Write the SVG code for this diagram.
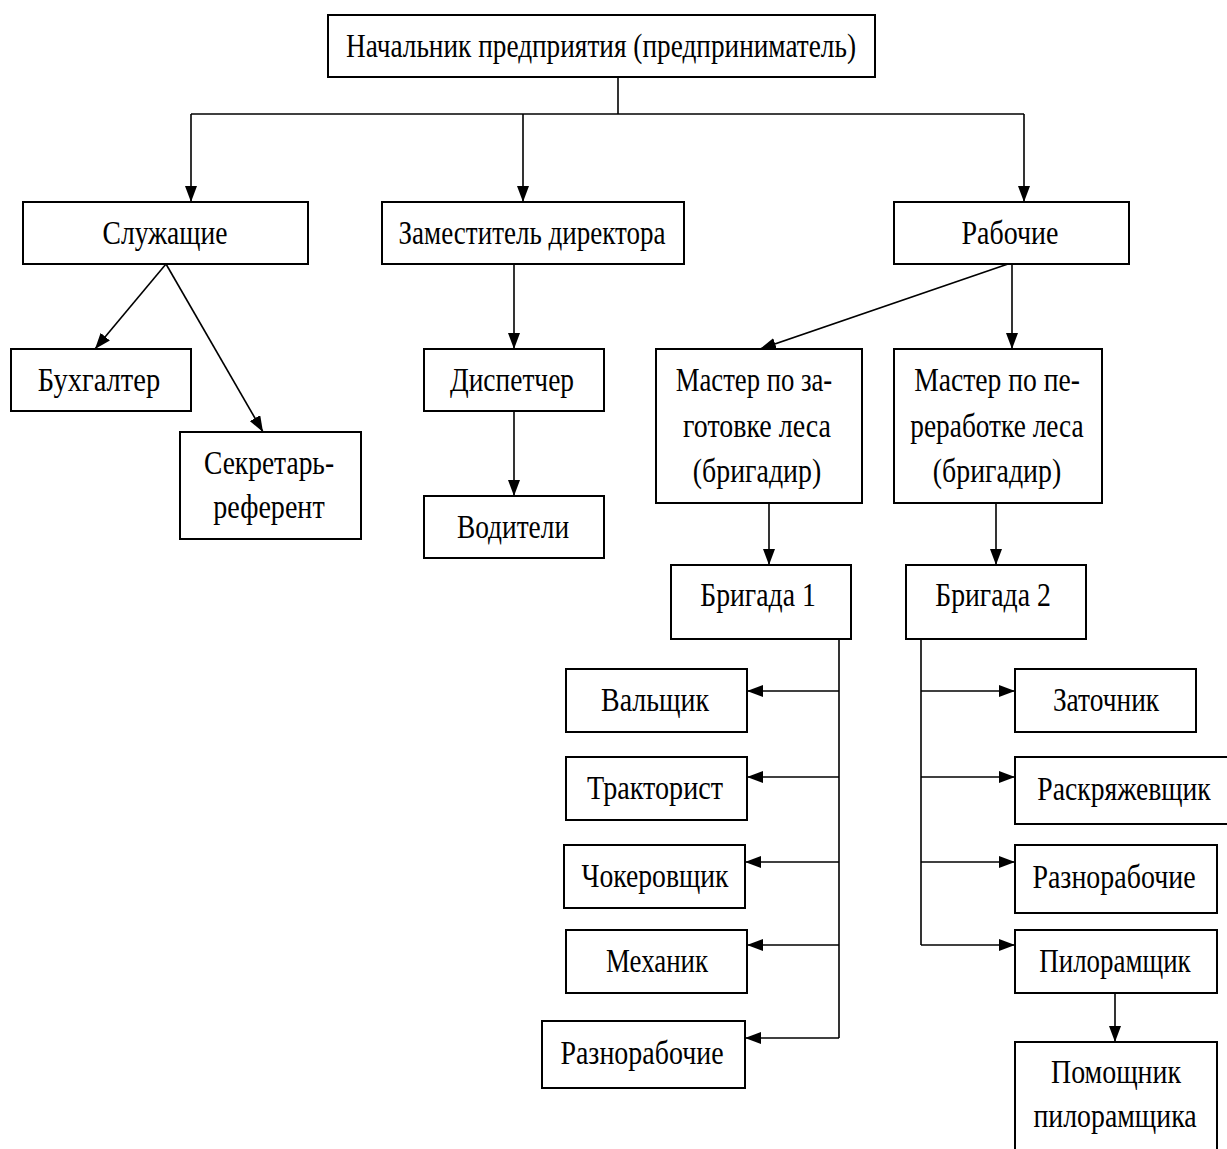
<svg xmlns="http://www.w3.org/2000/svg" width="1227" height="1149" viewBox="0 0 1227 1149">
<style>
.box{fill:#fff;stroke:#000;stroke-width:2}
.t{font-family:"Liberation Serif","Times New Roman",serif;font-size:34px;fill:#000;text-anchor:middle}
.c path{fill:none;stroke:#000;stroke-width:1.6}
</style>
<defs>
<marker id="ah" markerUnits="userSpaceOnUse" viewBox="0 0 16 12" refX="16" refY="6" markerWidth="16" markerHeight="12" orient="auto">
<path d="M0,0 L16,6 L0,12 z" fill="#000"/>
</marker>
</defs>
<rect width="1227" height="1149" fill="#fff"/>
<g class="c" id="connectors">
<path d="M618,77 V114"/>
<path d="M191,114 H1024"/>
<path d="M191,114 V202" marker-end="url(#ah)"/>
<path d="M523,114 V202" marker-end="url(#ah)"/>
<path d="M1024,114 V202" marker-end="url(#ah)"/>
<path d="M166,264 L95,349" marker-end="url(#ah)"/>
<path d="M166,264 L263,432" marker-end="url(#ah)"/>
<path d="M514,264 V349" marker-end="url(#ah)"/>
<path d="M514,411 V496" marker-end="url(#ah)"/>
<path d="M1008,264 L760,349" marker-end="url(#ah)"/>
<path d="M1012,264 V349" marker-end="url(#ah)"/>
<path d="M769,503 V565" marker-end="url(#ah)"/>
<path d="M996,503 V565" marker-end="url(#ah)"/>
<path d="M839,639 V1038"/>
<path d="M839,691 H747" marker-end="url(#ah)"/>
<path d="M839,777 H747" marker-end="url(#ah)"/>
<path d="M839,862 H745" marker-end="url(#ah)"/>
<path d="M839,945 H747" marker-end="url(#ah)"/>
<path d="M839,1038 H745" marker-end="url(#ah)"/>
<path d="M921,639 V945"/>
<path d="M921,691 H1015" marker-end="url(#ah)"/>
<path d="M921,777 H1015" marker-end="url(#ah)"/>
<path d="M921,862 H1015" marker-end="url(#ah)"/>
<path d="M921,945 H1015" marker-end="url(#ah)"/>
<path d="M1115,993 V1042" marker-end="url(#ah)"/>
</g>
<g id="n-head"><rect class="box" x="328" y="15" width="547" height="62"/><text class="t" transform="translate(601,57) scale(0.85,1)" textLength="600" lengthAdjust="spacingAndGlyphs">Начальник предприятия (предприниматель)</text></g>
<g id="n-sluzh"><rect class="box" x="23" y="202" width="285" height="62"/><text class="t" transform="translate(165,244) scale(0.85,1)" textLength="147" lengthAdjust="spacingAndGlyphs">Служащие</text></g>
<g id="n-zam"><rect class="box" x="382" y="202" width="302" height="62"/><text class="t" transform="translate(532,244) scale(0.85,1)" textLength="314" lengthAdjust="spacingAndGlyphs">Заместитель директора</text></g>
<g id="n-rab"><rect class="box" x="894" y="202" width="235" height="62"/><text class="t" transform="translate(1010,244) scale(0.85,1)" textLength="114" lengthAdjust="spacingAndGlyphs">Рабочие</text></g>
<g id="n-buh"><rect class="box" x="11" y="349" width="180" height="62"/><text class="t" transform="translate(99,391) scale(0.85,1)" textLength="144" lengthAdjust="spacingAndGlyphs">Бухгалтер</text></g>
<g id="n-sekr"><rect class="box" x="180" y="432" width="181" height="107"/><text class="t" transform="translate(269,474) scale(0.85,1)" textLength="153" lengthAdjust="spacingAndGlyphs">Секретарь-</text><text class="t" transform="translate(269,518) scale(0.85,1)" textLength="131" lengthAdjust="spacingAndGlyphs">референт</text></g>
<g id="n-disp"><rect class="box" x="424" y="349" width="180" height="62"/><text class="t" transform="translate(512,391) scale(0.85,1)" textLength="146" lengthAdjust="spacingAndGlyphs">Диспетчер</text></g>
<g id="n-vod"><rect class="box" x="424" y="496" width="180" height="62"/><text class="t" transform="translate(513,538) scale(0.85,1)" textLength="132" lengthAdjust="spacingAndGlyphs">Водители</text></g>
<g id="n-m1"><rect class="box" x="656" y="349" width="206" height="154"/><text class="t" transform="translate(754,391) scale(0.85,1)" textLength="184" lengthAdjust="spacingAndGlyphs">Мастер по за-</text><text class="t" transform="translate(757,437) scale(0.85,1)" textLength="174" lengthAdjust="spacingAndGlyphs">готовке леса</text><text class="t" transform="translate(757,482) scale(0.85,1)" textLength="151" lengthAdjust="spacingAndGlyphs">(бригадир)</text></g>
<g id="n-m2"><rect class="box" x="894" y="349" width="208" height="154"/><text class="t" transform="translate(997,391) scale(0.85,1)" textLength="195" lengthAdjust="spacingAndGlyphs">Мастер по пе-</text><text class="t" transform="translate(997,437) scale(0.85,1)" textLength="204" lengthAdjust="spacingAndGlyphs">реработке леса</text><text class="t" transform="translate(997,482) scale(0.85,1)" textLength="151" lengthAdjust="spacingAndGlyphs">(бригадир)</text></g>
<g id="n-b1"><rect class="box" x="671" y="565" width="180" height="74"/><text class="t" transform="translate(758,606) scale(0.85,1)" textLength="136" lengthAdjust="spacingAndGlyphs">Бригада 1</text></g>
<g id="n-b2"><rect class="box" x="906" y="565" width="180" height="74"/><text class="t" transform="translate(993,606) scale(0.85,1)" textLength="136" lengthAdjust="spacingAndGlyphs">Бригада 2</text></g>
<g id="n-val"><rect class="box" x="566" y="669" width="181" height="63"/><text class="t" transform="translate(655,711) scale(0.85,1)" textLength="127" lengthAdjust="spacingAndGlyphs">Вальщик</text></g>
<g id="n-trak"><rect class="box" x="566" y="757" width="181" height="63"/><text class="t" transform="translate(655,799) scale(0.85,1)" textLength="160" lengthAdjust="spacingAndGlyphs">Тракторист</text></g>
<g id="n-chok"><rect class="box" x="564" y="845" width="181" height="63"/><text class="t" transform="translate(655,887) scale(0.85,1)" textLength="173" lengthAdjust="spacingAndGlyphs">Чокеровщик</text></g>
<g id="n-meh"><rect class="box" x="566" y="930" width="181" height="63"/><text class="t" transform="translate(657,972) scale(0.85,1)" textLength="120" lengthAdjust="spacingAndGlyphs">Механик</text></g>
<g id="n-razn1"><rect class="box" x="542" y="1021" width="203" height="67"/><text class="t" transform="translate(642,1064) scale(0.85,1)" textLength="192" lengthAdjust="spacingAndGlyphs">Разнорабочие</text></g>
<g id="n-zat"><rect class="box" x="1015" y="669" width="181" height="63"/><text class="t" transform="translate(1106,711) scale(0.85,1)" textLength="125" lengthAdjust="spacingAndGlyphs">Заточник</text></g>
<g id="n-rask"><rect class="box" x="1015" y="757" width="215" height="67"/><text class="t" transform="translate(1124,800) scale(0.85,1)" textLength="204" lengthAdjust="spacingAndGlyphs">Раскряжевщик</text></g>
<g id="n-razn2"><rect class="box" x="1015" y="845" width="202" height="68"/><text class="t" transform="translate(1114,888) scale(0.85,1)" textLength="192" lengthAdjust="spacingAndGlyphs">Разнорабочие</text></g>
<g id="n-pil"><rect class="box" x="1015" y="930" width="202" height="63"/><text class="t" transform="translate(1115,972) scale(0.85,1)" textLength="178" lengthAdjust="spacingAndGlyphs">Пилорамщик</text></g>
<g id="n-pom"><rect class="box" x="1015" y="1042" width="202" height="120"/><text class="t" transform="translate(1116,1083) scale(0.85,1)" textLength="153" lengthAdjust="spacingAndGlyphs">Помощник</text><text class="t" transform="translate(1115,1127) scale(0.85,1)" textLength="192" lengthAdjust="spacingAndGlyphs">пилорамщика</text></g>
</svg>
